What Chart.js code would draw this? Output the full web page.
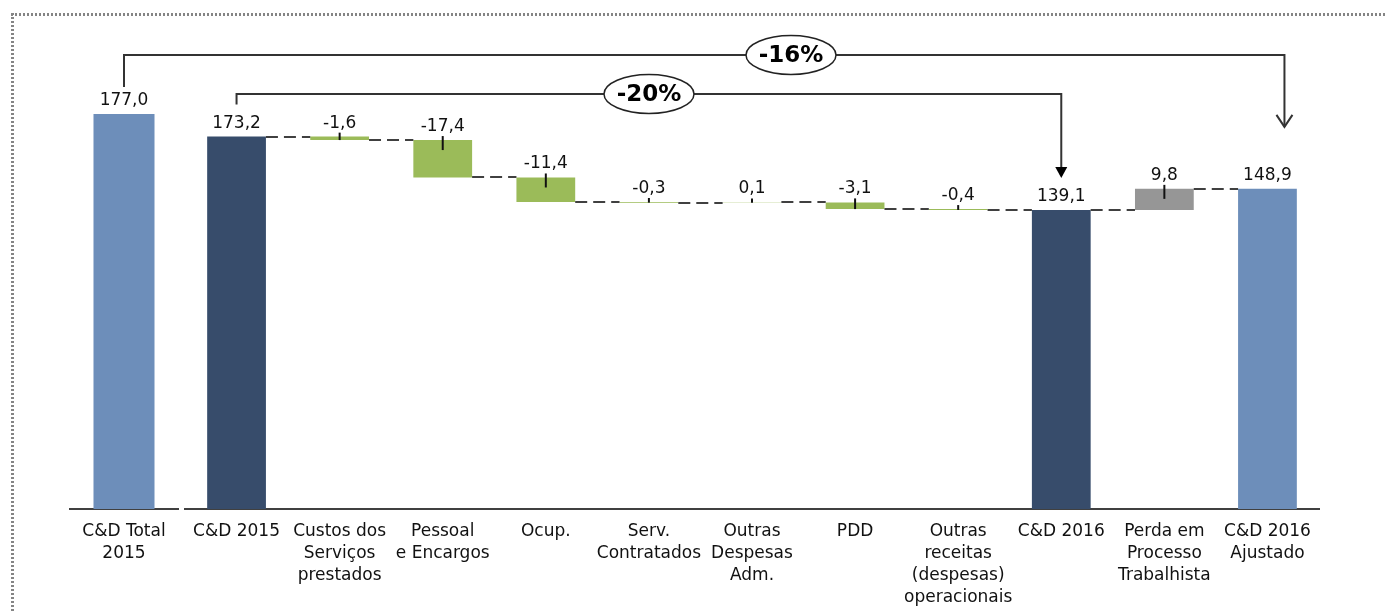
<!DOCTYPE html>
<html>
<head>
<meta charset="utf-8">
<script src="https://cdn.jsdelivr.net/npm/chart.js@4"></script>
<style>
  body { margin: 0; background: #fff; }
  #wrap { position: relative; width: 1385px; height: 612px; overflow: hidden; }
  #frameTop { position: absolute; left: 11px; top: 13px; width: 1380px; height: 3px;
              background: repeating-linear-gradient(90deg, #858585 0 2px, transparent 2px 4px); }
  #frameLeft { position: absolute; left: 11px; top: 13px; width: 3px; height: 610px;
               background: repeating-linear-gradient(180deg, #858585 0 2px, transparent 2px 4px); }
  canvas { position: absolute; left: 0; top: 0; }
</style>
</head>
<body>
<div id="wrap">
  <div id="frameTop"></div>
  <div id="frameLeft"></div>
  <canvas id="left" width="1385" height="612"></canvas>
  <canvas id="right" width="1385" height="612"></canvas>
</div>
<script>
// left panel: reference total
const leftLabels = [["C&D Total", "2015"]];
const leftValues = [177.0];

// right panel: bridge 2015 -> 2016
const bridgeLabels = [
  ["C&D 2015"],
  ["Custos dos", "Serviços", "prestados"],
  ["Pessoal", "e Encargos"],
  ["Ocup."],
  ["Serv.", "Contratados"],
  ["Outras", "Despesas", "Adm."],
  ["PDD"],
  ["Outras", "receitas", "(despesas)", "operacionais"],
  ["C&D 2016"],
  ["Perda em", "Processo", "Trabalhista"],
  ["C&D 2016", "Ajustado"]
];
const bridgeValues = [173.2, -1.6, -17.4, -11.4, -0.3, 0.1, -3.1, -0.4, 139.1, 9.8, 148.9];
const bridgeKinds = ["total", "delta", "delta", "delta", "delta", "delta", "delta", "delta", "total", "extra", "adjusted"];

const COLORS = {
  total: "#374c6b",
  delta: "#9bbb59",
  extra: "#969696",
  adjusted: "#6d8eba",
  line: "#404040",
  text: "#111"
};
const FONT = "DejaVu Sans";

// build floating bars from the running total
const floats = [];
const ends = [];
let running = 0;
bridgeValues.forEach((v, i) => {
  if (bridgeKinds[i] === "delta" || bridgeKinds[i] === "extra") {
    const next = running + v;
    floats.push([Math.min(running, next), Math.max(running, next)]);
    running = next;
  } else {
    floats.push([0, v]);
    running = v;
  }
  ends.push(running);
});

const fmt = v => v.toFixed(1).replace(".", ",");

function xScale() {
  return {
    grid: { display: false, drawTicks: false },
    border: { display: true, color: COLORS.line, width: 2 },
    ticks: {
      color: COLORS.text, padding: 12, autoSkip: false, maxRotation: 0,
      font: { family: FONT, size: 17, lineHeight: 22 / 17 }
    },
    afterFit: s => { s.height = 103; }
  };
}

// value labels + small leader ticks + dashed connectors
function decorations(values, kinds, withConnectors) {
  return {
    id: "decorations",
    afterDatasetsDraw(chart) {
      const ctx = chart.ctx;
      const y = chart.scales.y;
      const bars = chart.getDatasetMeta(0).data;
      ctx.save();
      bars.forEach((bar, i) => {
        const top = Math.min(bar.y, bar.base);
        const bottom = Math.max(bar.y, bar.base);
        ctx.fillStyle = COLORS.text;
        ctx.font = "17px '" + FONT + "'";
        ctx.textAlign = "center";
        ctx.textBaseline = "alphabetic";
        ctx.fillText(fmt(values[i]), bar.x, top - 9);
        if (kinds[i] === "delta" || kinds[i] === "extra") {
          ctx.strokeStyle = "#111";
          ctx.lineWidth = 2;
          ctx.beginPath();
          ctx.moveTo(bar.x, top - 4);
          ctx.lineTo(bar.x, Math.min(top + 10, bottom));
          ctx.stroke();
        }
        if (withConnectors && i < bars.length - 1) {
          const nxt = bars[i + 1];
          const ly = Math.round(y.getPixelForValue(ends[i]));
          ctx.strokeStyle = COLORS.line;
          ctx.lineWidth = 2;
          ctx.setLineDash([12, 6]);
          ctx.beginPath();
          ctx.moveTo(bar.x + bar.width / 2, ly);
          ctx.lineTo(nxt.x - nxt.width / 2, ly);
          ctx.stroke();
          ctx.setLineDash([]);
        }
      });
      ctx.restore();
    }
  };
}

const leftChart = new Chart(document.getElementById("left"), {
  type: "bar",
  data: {
    labels: leftLabels,
    datasets: [{ data: leftValues, backgroundColor: COLORS.adjusted, barPercentage: 0.565, categoryPercentage: 1 }]
  },
  options: {
    responsive: false,
    animation: false,
    devicePixelRatio: 1,
    layout: { padding: { left: 70, right: 1385 - 178, top: 36, bottom: 0 } },
    scales: { x: xScale(), y: { display: false, min: 0, max: 212 } },
    plugins: { legend: { display: false }, tooltip: { enabled: false } }
  },
  plugins: [decorations(leftValues, ["total"], false)]
});

// percentage brackets spanning both panels
const brackets = {
  id: "brackets",
  afterDraw(chart) {
    const ctx = chart.ctx;
    const y = chart.scales.y;
    const bars = chart.getDatasetMeta(0).data;
    const lBar = leftChart.getDatasetMeta(0).data[0];
    const lTop = leftChart.scales.y.getPixelForValue(leftValues[0]);
    const last = bars.length - 1;
    const i16 = bridgeKinds.indexOf("total", 1);
    const pct = (a, b) => Math.round((a / b - 1) * 100) + "%";

    ctx.save();
    ctx.strokeStyle = "#333";
    ctx.fillStyle = "#000";
    ctx.lineWidth = 2;

    // -16%: total 2015 -> adjusted 2016
    const ax = bars[last].x + 17;
    const aTip = y.getPixelForValue(bridgeValues[last]) - 62;
    ctx.beginPath();
    ctx.moveTo(lBar.x, lTop - 27);
    ctx.lineTo(lBar.x, 55);
    ctx.lineTo(ax, 55);
    ctx.lineTo(ax, aTip);
    ctx.stroke();
    ctx.beginPath();
    ctx.moveTo(ax - 8, aTip - 12);
    ctx.lineTo(ax, aTip);
    ctx.lineTo(ax + 8, aTip - 12);
    ctx.stroke();

    // -20%: 2015 -> 2016
    const bx = bars[i16].x;
    const bTip = y.getPixelForValue(bridgeValues[i16]) - 32;
    const sx = bars[0].x;
    ctx.beginPath();
    ctx.moveTo(sx, y.getPixelForValue(bridgeValues[0]) - 32);
    ctx.lineTo(sx, 94);
    ctx.lineTo(bx, 94);
    ctx.lineTo(bx, bTip - 10);
    ctx.stroke();
    ctx.beginPath();
    ctx.moveTo(bx - 6, bTip - 11);
    ctx.lineTo(bx + 6, bTip - 11);
    ctx.lineTo(bx, bTip);
    ctx.closePath();
    ctx.fill();

    const oval = (cx, cy, text) => {
      ctx.beginPath();
      ctx.ellipse(cx, cy, 45, 19.5, 0, 0, Math.PI * 2);
      ctx.fillStyle = "#fff";
      ctx.fill();
      ctx.lineWidth = 1.5;
      ctx.strokeStyle = "#222";
      ctx.stroke();
      ctx.fillStyle = "#000";
      ctx.font = "bold 23px '" + FONT + "'";
      ctx.textAlign = "center";
      ctx.textBaseline = "middle";
      ctx.fillText(text, cx, cy + 1);
    };
    oval(791, 55, pct(bridgeValues[last], leftValues[0]));
    oval(649, 94, pct(bridgeValues[i16], bridgeValues[0]));
    ctx.restore();
  }
};

new Chart(document.getElementById("right"), {
  type: "bar",
  data: {
    labels: bridgeLabels,
    datasets: [{
      data: floats,
      backgroundColor: bridgeKinds.map(k => COLORS[k]),
      barPercentage: 0.57,
      categoryPercentage: 1
    }]
  },
  options: {
    responsive: false,
    animation: false,
    devicePixelRatio: 1,
    layout: { padding: { left: 185, right: 1385 - 1319, top: 36, bottom: 0 } },
    scales: { x: xScale(), y: { display: false, min: 0, max: 220 } },
    plugins: { legend: { display: false }, tooltip: { enabled: false } }
  },
  plugins: [decorations(bridgeValues, bridgeKinds, true), brackets]
});
</script>
</body>
</html>
